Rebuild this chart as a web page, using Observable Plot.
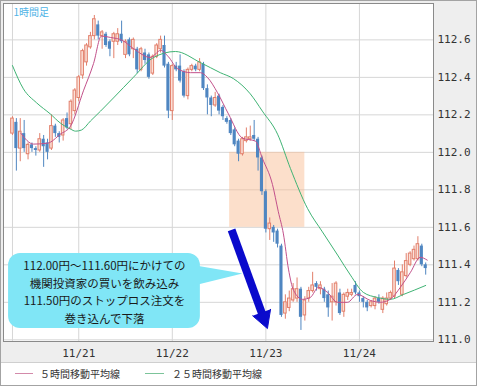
<!DOCTYPE html>
<html><head><meta charset="utf-8">
<script src="https://cdn.jsdelivr.net/npm/d3@7"></script>
<script src="https://cdn.jsdelivr.net/npm/@observablehq/plot@0.6"></script>
<style>
body{margin:0;background:#fff;}
#wrap{width:477px;height:386px;box-sizing:border-box;border:1px solid #a3a3a3;position:relative;overflow:hidden;background:#fff;}
#chart svg{display:block;}
#legend{position:relative;height:22px;border-top:1px solid #cfcfcf;box-sizing:border-box;font-family:"Noto Sans CJK JP";font-size:10px;color:#333;}
.lg{position:absolute;top:0;height:21px;line-height:21px;white-space:nowrap;}
.ln{position:absolute;top:10px;height:1px;}
</style></head>
<body>
<div id="wrap"><div id="chart"></div>
<div id="legend">
  <span class="ln" style="left:14px;width:18px;background:#d38aaa"></span>
  <span class="lg" style="left:39px">５時間移動平均線</span>
  <span class="ln" style="left:144px;width:19px;background:#7cc49a"></span>
  <span class="lg" style="left:171px">２５時間移動平均線</span>
</div></div>
<script>
// ---- data (1-hour candles, index 0 = first bar) ----
const open  = [112.10,112.16,112.02,112.10,111.99,112.04,112.02,112.01,112.07,112.05,112.02,112.14,112.10,112.09,112.18,112.15,112.22,112.29,112.41,112.48,112.56,112.62,112.68,112.62,112.63,112.59,112.59,112.59,112.63,112.52,112.60,112.55,112.55,112.44,112.53,112.52,112.42,112.51,112.55,112.57,112.47,112.22,112.46,112.46,112.43,112.30,112.44,112.46,112.44,112.47,112.34,112.29,112.25,112.30,112.24,112.18,112.17,112.12,112.06,111.99,112.06,112.07,112.09,112.07,111.97,111.79,111.59,111.60,111.58,111.50,111.14,111.17,111.21,111.22,111.27,111.13,111.22,111.26,111.30,111.27,111.27,111.24,111.20,111.20,111.25,111.15,111.23,111.24,111.29,111.25,111.22,111.20,111.18,111.18,111.22,111.16,111.19,111.22,111.23,111.37,111.24,111.34,111.40,111.43,111.43,111.50,111.40];
const high  = [112.19,112.18,112.18,112.17,112.05,112.05,112.03,112.10,112.09,112.07,112.20,112.15,112.11,112.18,112.21,112.28,112.34,112.41,112.55,112.58,112.64,112.73,112.70,112.65,112.64,112.60,112.64,112.66,112.70,112.60,112.61,112.61,112.56,112.56,112.55,112.53,112.52,112.58,112.62,112.62,112.48,112.47,112.48,112.52,112.44,112.45,112.47,112.47,112.50,112.48,112.36,112.30,112.32,112.31,112.25,112.19,112.18,112.13,112.07,112.08,112.13,112.14,112.17,112.08,111.98,111.80,111.65,111.61,111.59,111.51,111.24,111.26,111.30,111.33,111.28,111.23,111.28,111.36,111.31,111.31,111.28,111.26,111.30,111.31,111.27,111.25,111.27,111.27,111.31,111.26,111.23,111.21,111.21,111.23,111.24,111.23,111.25,111.26,111.42,111.38,111.40,111.46,111.47,111.50,111.55,111.51,111.41];
const low   = [112.09,111.90,111.95,112.00,111.96,112.00,111.98,112.00,111.92,111.96,112.01,112.08,112.05,112.06,112.12,112.12,112.20,112.27,112.39,112.46,112.55,112.60,112.60,112.55,112.56,112.51,112.50,112.57,112.58,112.50,112.51,112.50,112.42,112.43,112.47,112.39,112.41,112.50,112.53,112.45,112.18,112.17,112.43,112.37,112.29,112.28,112.43,112.43,112.43,112.33,112.20,112.19,112.24,112.20,112.17,112.15,112.09,112.03,111.95,111.98,112.05,112.06,112.06,111.90,111.77,111.57,111.53,111.52,111.49,111.12,111.11,111.15,111.20,111.20,111.05,111.10,111.20,111.25,111.26,111.24,111.20,111.12,111.10,111.18,111.13,111.12,111.21,111.23,111.24,111.20,111.17,111.15,111.17,111.16,111.19,111.14,111.18,111.21,111.22,111.29,111.23,111.33,111.39,111.42,111.42,111.39,111.345];
const close = [112.18,112.02,112.11,112.02,112.04,112.02,112.01,112.07,112.03,112.00,112.14,112.10,112.08,112.17,112.13,112.27,112.33,112.40,112.54,112.57,112.62,112.71,112.62,112.64,112.57,112.55,112.63,112.63,112.59,112.59,112.52,112.60,112.44,112.55,112.49,112.40,112.51,112.57,112.60,112.46,112.22,112.46,112.44,112.38,112.30,112.44,112.46,112.44,112.48,112.34,112.29,112.25,112.29,112.22,112.19,112.16,112.10,112.04,111.99,112.07,112.08,112.08,112.07,111.97,111.79,111.59,111.62,111.57,111.51,111.13,111.20,111.22,111.27,111.27,111.12,111.21,111.26,111.29,111.28,111.29,111.22,111.17,111.23,111.30,111.14,111.24,111.25,111.25,111.25,111.23,111.20,111.17,111.20,111.22,111.20,111.22,111.22,111.25,111.38,111.31,111.36,111.42,111.46,111.48,111.51,111.40,111.38];

// moving averages (bar index, price)
const ma5Idx = [2.1,5.4,9,12.3,14.9,18.2,20.8,22.8,25.1,28.2,31,35.4,38,40,42.3,45.7,48.2,50,52.6,55.4,59,62.3,64.1,66.7,68.2,69.5,70.8,72.1,74.4,76.4,78.5,80.8,83.4,85.9,88.5,91.8,94.4,96.9,99.5,102.1,104.6,106.4];
const ma5Val = [112.103,112.044,112.049,112.097,112.14,112.328,112.474,112.62,112.613,112.597,112.554,112.506,112.544,112.51,112.447,112.425,112.425,112.40,112.318,112.205,112.076,112.06,111.968,111.828,111.683,111.565,111.377,111.264,111.216,111.226,111.28,111.253,111.20,111.20,111.242,111.21,111.20,111.216,111.28,111.36,111.44,111.425];
const ma25Idx = [0,2.8,6.2,9.7,12.3,14.9,16.2,17.7,20,22.6,25.9,31,36.2,41.8,48.2,53.3,56.7,61,64.1,68,71.3,75.7,79.5,83.4,86.7,90,93.6,96.9,100.3,106];
const ma25Val = [112.463,112.339,112.264,112.205,112.156,112.124,112.113,112.119,112.167,112.22,112.29,112.40,112.506,112.538,112.479,112.425,112.393,112.312,112.22,112.097,111.914,111.70,111.576,111.452,111.345,111.253,111.226,111.216,111.242,111.29];

// axes
const dayTicks  = [0, 17, 41, 65, 89];
const dayLabels = ["", "11/21", "11/22", "11/23", "11/24"];
const yTicks = [111.0, 111.2, 111.4, 111.6, 111.8, 112.0, 112.2, 112.4, 112.6];

// annotations
const zoneIdx = [55.7, 75];        // shaded zone (bars)
const zonePrice = [111.60, 112.00];
const arrowIdx = [56.2, 65.4];     // start, tip
const arrowPrice = [111.586, 111.06];
const bubbleIdx = [-1.0, 48.2];
const bubblePrice = [111.06, 111.46];
const pointerIdx = [45.5, 59.0, 45.5];
const pointerPrice = [111.402, 111.354, 111.285];
const bubbleLines = ["112.00円〜111.60円にかけての", "機関投資家の買いを飲み込み", "111.50円のストップロス注文を", "巻き込んで下落"];
const title = "1時間足";

// ---- layout ----
const W = 475, H = 361, mL = 2, mR = 43, mT = 2, mB = 21;
const xDomain = [-2.3, 108];
const yDomain = [110.991, 112.794];

const bars = open.map((o, i) => ({i, open: o, high: high[i], low: low[i], close: close[i]}));
const upBars = bars.filter(d => d.close >= d.open);
const downBars = bars.filter(d => d.close < d.open);
const ma5 = ma5Idx.map((x, k) => ({x, y: ma5Val[k]}));
const ma25 = ma25Idx.map((x, k) => ({x, y: ma25Val[k]}));

// arrowhead polygon (filled), built in pixel space then inverted to data
const sx = d3.scaleLinear(xDomain, [mL, W - mR]);
const sy = d3.scaleLinear(yDomain, [H - mB, mT]);
const p0 = [sx(arrowIdx[0]), sy(arrowPrice[0])], p1 = [sx(arrowIdx[1]), sy(arrowPrice[1])];
const len = Math.hypot(p1[0]-p0[0], p1[1]-p0[1]);
const ux = (p1[0]-p0[0])/len, uy = (p1[1]-p0[1])/len;
const headL = 17, headW = 9.5;
const base = [p1[0]-ux*headL, p1[1]-uy*headL];
const headPts = [
  [base[0]-uy*headW, base[1]+ux*headW], p1, [base[0]+uy*headW, base[1]-ux*headW]
].map(([px, py]) => ({x: sx.invert(px), y: sy.invert(py)}));
const shaft = [{x1: arrowIdx[0], y1: arrowPrice[0], x2: sx.invert(base[0]+ux*2), y2: sy.invert(base[1]+uy*2)}];

const pointer = pointerIdx.map((x, k) => ({x, y: pointerPrice[k]}));
const bubbleCx = (bubbleIdx[0] + bubbleIdx[1]) / 2;
const bubbleCy = (bubblePrice[0] + bubblePrice[1]) / 2;

const upStroke = "#e27f6b", upFill = "#fbe1d8", downColor = "#4f86c1";

const chart = Plot.plot({
  width: W, height: H,
  marginLeft: mL, marginRight: mR, marginTop: mT, marginBottom: mB,
  style: {background: "#eeeeee", fontFamily: "DejaVu Sans Mono", fontSize: "11px", color: "#333", overflow: "visible"},
  x: {domain: xDomain, ticks: dayTicks, tickFormat: d => dayLabels[dayTicks.indexOf(d)], tickSize: 0, tickPadding: 8, label: null, axis: "bottom"},
  y: {domain: yDomain, ticks: yTicks, tickFormat: d => d.toFixed(1), tickSize: 0, tickPadding: 4, label: null, axis: "right"},
  marks: [
    Plot.frame({fill: "white"}),
    Plot.ruleY(yTicks, {stroke: "#d6d6d6"}),
    Plot.ruleX(dayTicks, {stroke: "#d6d6d6"}),
    Plot.rect([0], {x1: () => zoneIdx[0], x2: () => zoneIdx[1], y1: () => zonePrice[0], y2: () => zonePrice[1], fill: "#f9b98c", fillOpacity: 0.45}),
    Plot.ruleX(downBars, {x: "i", y1: "low", y2: "high", stroke: downColor}),
    Plot.ruleX(upBars, {x: "i", y1: "low", y2: "high", stroke: upStroke}),
    Plot.rect(downBars, {x1: d => d.i - 0.4, x2: d => d.i + 0.4, y1: "open", y2: "close", fill: downColor}),
    Plot.rect(upBars, {x1: d => d.i - 0.33, x2: d => d.i + 0.33, y1: "open", y2: "close", fill: upFill, stroke: upStroke, strokeWidth: 1}),
    Plot.line(ma25, {x: "x", y: "y", stroke: "#3fb374", strokeWidth: 1, curve: "monotone-x"}),
    Plot.line(ma5, {x: "x", y: "y", stroke: "#c2508a", strokeWidth: 1, curve: "monotone-x"}),
    Plot.rect([0], {x1: () => bubbleIdx[0], x2: () => bubbleIdx[1], y1: () => bubblePrice[0], y2: () => bubblePrice[1], fill: "#80e6f6", rx: 12}),
    Plot.line(pointer, {x: "x", y: "y", fill: "#80e6f6", stroke: "none"}),
    Plot.text([bubbleLines.join("\n")], {x: () => bubbleCx, y: () => bubbleCy, text: d => d, fontFamily: "Noto Sans CJK JP", fontSize: 11.5, lineHeight: 1.53, fill: "#1a1a1a", textAnchor: "middle"}),
    Plot.link(shaft, {x1: "x1", y1: "y1", x2: "x2", y2: "y2", stroke: "#0a0acc", strokeWidth: 8}),
    Plot.line(headPts, {x: "x", y: "y", fill: "#0a0acc", stroke: "#0a0acc", strokeWidth: 1}),
    Plot.frame({stroke: "#8a8a8a"}),
    Plot.text([title], {frameAnchor: "top-left", dx: 10, dy: 5, text: d => d, fontFamily: "Noto Sans CJK JP", fontSize: 10, fill: "#4fb3e6", lineAnchor: "top", textAnchor: "start"})
  ]
});
document.getElementById("chart").append(chart);
</script>
</body></html>
